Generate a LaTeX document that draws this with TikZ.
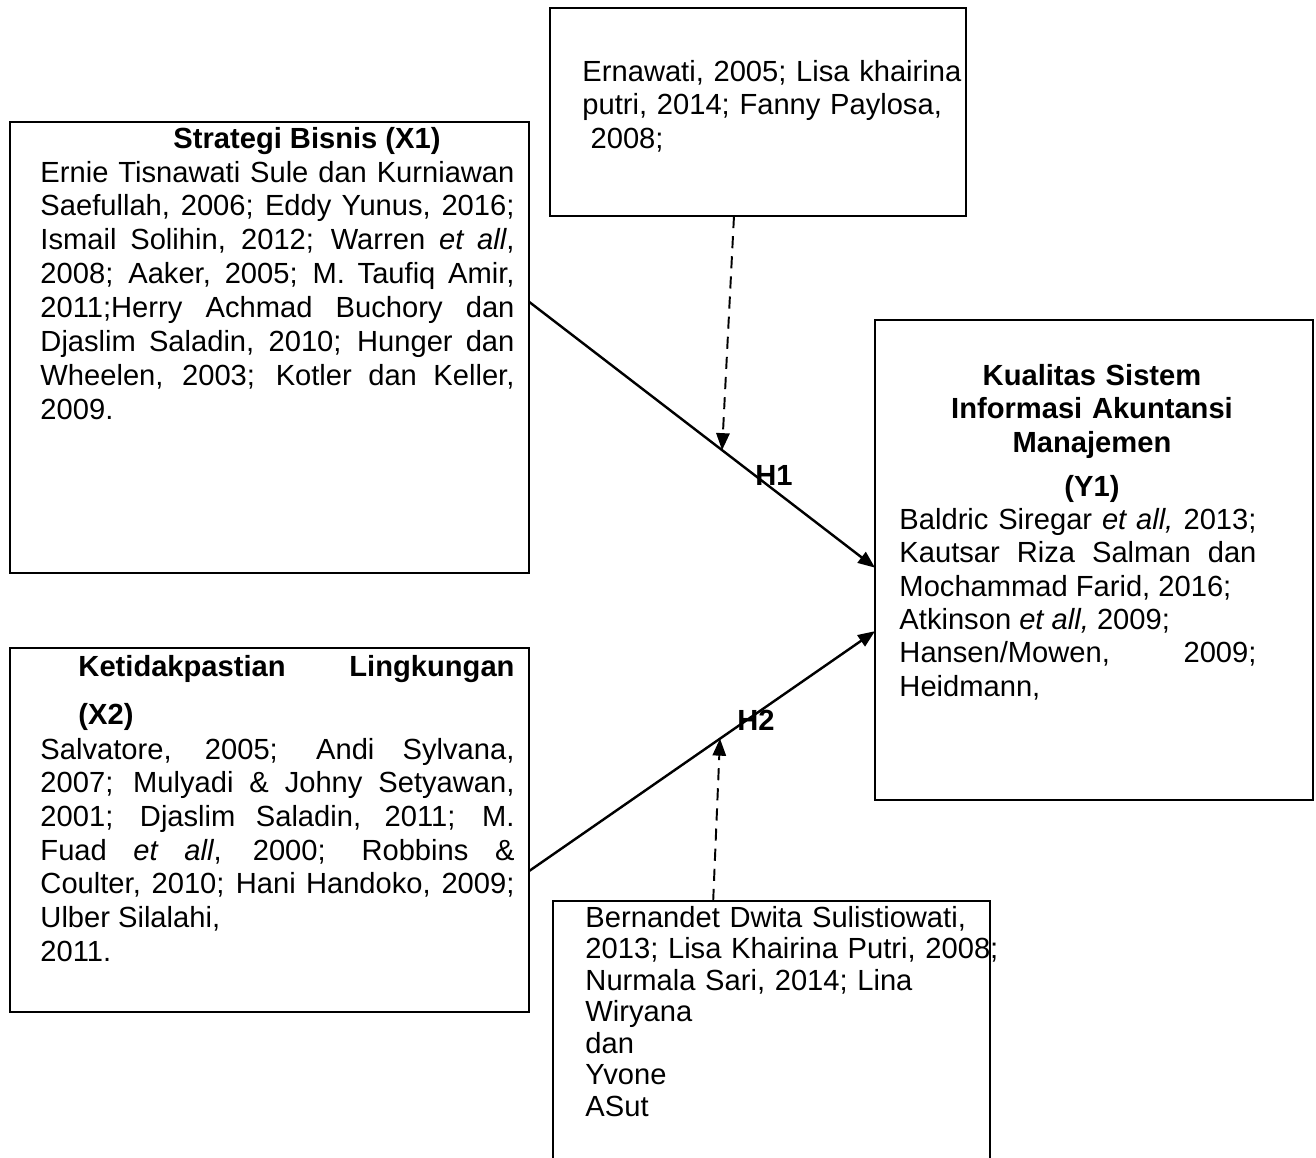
\documentclass[tikz,border=0pt]{standalone}
\usepackage{fontspec}
\setmainfont{Liberation Sans}
\usetikzlibrary{arrows.meta}
\hyphenpenalty=10000
\exhyphenpenalty=10000
\tolerance=10000
\hbadness=10000
\hfuzz=20pt
\def\pxu{0.412pt}
\begin{document}
\begin{tikzpicture}[x=\pxu,y=-\pxu,
  varbox/.style={draw,line width=0.7pt,inner sep=0pt,outer sep=0pt,anchor=north west},
  reftext/.style={anchor=base west,inner sep=0pt,align=justify,font=\fontsize{12}{13.8}\selectfont},
  vartitle/.style={inner sep=0pt,font=\fontsize{12}{13.8}\selectfont\bfseries},
  effect/.style={-{Triangle[length=7pt,width=5.5pt]},line width=1pt},
  moderate/.style={-{Triangle[length=7pt,width=5.5pt]},line width=0.8pt,dash pattern=on 5pt off 3.3pt}]
  \useasboundingbox (0,0) rectangle (1316,1157);
  %top
  \node[varbox,minimum width=416*\pxu,minimum height=208*\pxu] (m1) at (550,8) {};
  \node[reftext,align=left,text width=400*\pxu] (m1t) at (582,81) {Ernawati, 2005; Lisa khairina\\putri, 2014; Fanny Paylosa,\\\hspace*{0.28em}2008;};
  %left
  \node[varbox,minimum width=519*\pxu,minimum height=451*\pxu] (x1) at (10,122) {};
  \node[vartitle,anchor=base] (x1h) at (307,148) {Strategi Bisnis (X1)};
  \node[reftext,text width=474*\pxu,font=\fontsize{12}{14}\selectfont] (x1t) at (40,182) {Ernie Tisnawati Sule dan Kurniawan\linebreak
    Saefullah, 2006; Eddy Yunus, 2016;\linebreak
    Ismail Solihin, 2012; Warren \textit{et all},\linebreak
    2008; Aaker, 2005; M. Taufiq Amir,\linebreak
    2011;Herry Achmad Buchory dan\linebreak
    Djaslim Saladin, 2010; Hunger dan\linebreak
    Wheelen, 2003; Kotler dan Keller,\linebreak
    2009.};
  \node[varbox,minimum width=519*\pxu,minimum height=364*\pxu] (x2) at (10,648) {};
  \node[vartitle,text width=436*\pxu,align=justify,anchor=base west] (x2h) at (78,676) {Ketidakpastian\hfill Lingkungan\\[6pt](X2)};
  \node[reftext,text width=474*\pxu,font=\fontsize{12}{13.9}\selectfont] (x2t) at (40,759) {Salvatore, 2005; Andi Sylvana,\linebreak
    2007; Mulyadi \& Johny Setyawan,\linebreak
    2001; Djaslim Saladin, 2011; M.\linebreak
    Fuad \textit{et all}, 2000; Robbins \&\linebreak
    Coulter, 2010; Hani Handoko, 2009;\linebreak
    Ulber Silalahi,\\
    2011.};
  %right
  \node[varbox,minimum width=438*\pxu,minimum height=480*\pxu] (y1) at (875,320) {};
  \node[vartitle,text width=438*\pxu,align=center,anchor=base] (y1h) at (1092,385) {Kualitas Sistem\\Informasi Akuntansi\\Manajemen\\[4.6pt](Y1)};
  \node[reftext,text width=357*\pxu] (y1t) at (899,529) {Baldric Siregar \textit{et all,} 2013;\linebreak
    Kautsar Riza Salman dan\linebreak
    Mochammad Farid, 2016;\\
    Atkinson \textit{et all,} 2009;\\
    Hansen/Mowen, 2009;\linebreak
    Heidmann,};
  %bottom
  \node[varbox,minimum width=437*\pxu,minimum height=262*\pxu] (m2) at (553,901) {};
  \node[reftext,align=left,text width=420*\pxu,font=\fontsize{12}{13}\selectfont] (m2t) at (585,927) {Bernandet Dwita Sulistiowati,\\2013; Lisa Khairina Putri, 2008;\\Nurmala Sari, 2014; Lina\\Wiryana\\dan\\Yvone\\ASut};
  %arrows
  \draw[effect] (x1.10.16) -- coordinate[pos=0.558] (h1m) (y1.182.09);
  \draw[effect] (x2.-9.41) -- coordinate[pos=0.552] (h2m) (y1.198.9);
  \draw[moderate] (m1.257.5) -- (h1m);
  \draw[moderate] (m2.114.9) -- (h2m);
  \node[vartitle] (h1) at (774,475) {H1};
  \node[vartitle] (h2) at (756,720) {H2};
\end{tikzpicture}
\end{document}
